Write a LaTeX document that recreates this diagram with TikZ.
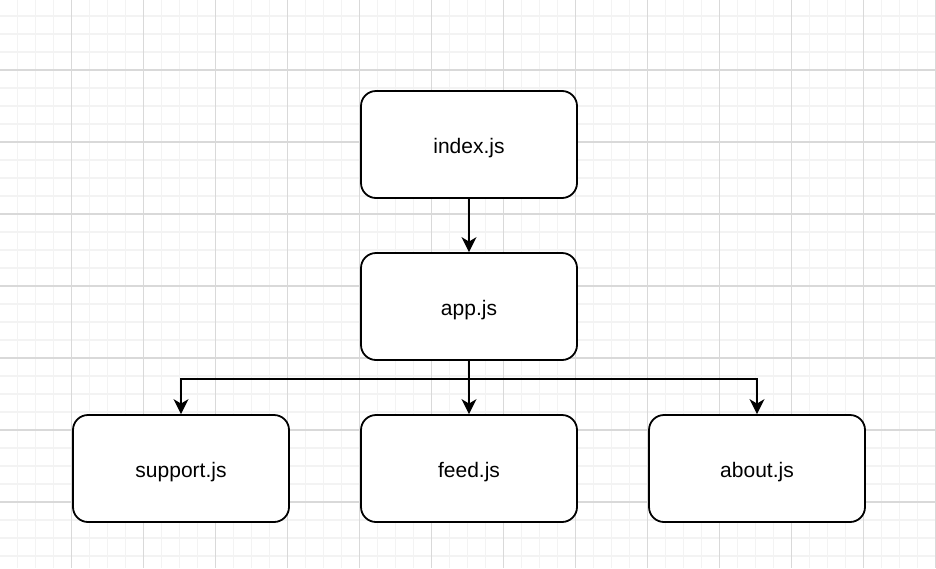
\documentclass[tikz,border=0pt]{standalone}
\usepackage{fontspec}
\setmainfont{Liberation Sans}
\usetikzlibrary{arrows.meta}
\definecolor{minorgrid}{HTML}{F3F3F3}
\definecolor{majorgrid}{HTML}{D9D9D9}
\begin{document}
\begin{tikzpicture}[x=1pt,y=-1pt,
  box/.style={draw=black, line width=1.8pt, rounded corners=15pt, minimum width=216pt, minimum height=107pt, fill=white, font=\fontsize{21}{25}\selectfont, inner sep=0pt, text height=19pt, text depth=2pt},
  conn/.style={draw=black, line width=1.8pt, -{Stealth[length=15pt,width=15pt,inset=4.5pt]}},
  minorline/.style={draw=minorgrid, line width=1.2pt},
  majorline/.style={draw=majorgrid, line width=1.2pt}]
\useasboundingbox (0,0) rectangle (936,568);
\fill[white] (0,0) rectangle (936,568);
\foreach \k in {0,...,52} \draw[minorline] ({-0.7+18*\k},0) -- ({-0.7+18*\k},568);
\foreach \k in {0,...,32} \draw[minorline] (0,{-2+18*\k}) -- (936,{-2+18*\k});
\foreach \k in {0,...,13} \draw[majorline] ({-0.7+72*\k},0) -- ({-0.7+72*\k},568);
\foreach \k in {0,...,8} \draw[majorline] (0,{-2+72*\k}) -- (936,{-2+72*\k});
\node[box] (index) at (469,144.5) {index.js};
\node[box] (app) at (469,306.5) {app.js};
\node[box] (support) at (181,468.5) {support.js};
\node[box] (feed) at (469,468.5) {feed.js};
\node[box] (about) at (757,468.5) {about.js};
\coordinate (bus) at (469,379);
\draw[conn] (index) -- (app);
\draw[conn] (app.south) -- (bus) -| (support.north);
\draw[conn] (app.south) -- (feed.north);
\draw[conn] (app.south) -- (bus) -| (about.north);
\end{tikzpicture}
\end{document}
